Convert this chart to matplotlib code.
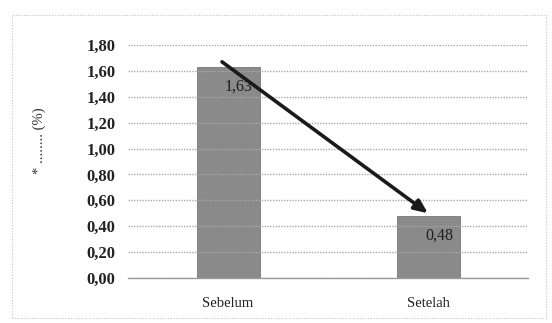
import matplotlib
matplotlib.use("Agg")
import matplotlib.pyplot as plt
from matplotlib.patches import Rectangle

categories = ["Sebelum", "Setelah"]
values = [1.63, 0.48]
value_labels = ["1,63", "0,48"]
yticks = [0.0, 0.2, 0.4, 0.6, 0.8, 1.0, 1.2, 1.4, 1.6, 1.8]
ytick_labels = ["0,00", "0,20", "0,40", "0,60", "0,80", "1,00", "1,20", "1,40", "1,60", "1,80"]

plt.rcParams["font.family"] = ["Liberation Serif", "DejaVu Serif"]

W, H = 552, 323
fig = plt.figure(figsize=(W / 100, H / 100), dpi=100)
fig.patch.set_facecolor("white")

# outer chart frame
fig.patches.append(Rectangle((12 / W, 1 - 318 / H), 534 / W, 303 / H,
                             transform=fig.transFigure, fill=False,
                             edgecolor="#c4c4c4", linewidth=0.8,
                             linestyle=(0, (1, 1.5))))

ax = fig.add_axes([128 / W, 1 - 278 / H, 400 / W, 233 / H])
x = list(range(len(categories)))
ax.bar(x, values, width=0.315, color="#8a8a8a", edgecolor="#777777",
       linewidth=0.6, zorder=1)

ax.set_xlim(-0.5, 1.5)
ax.set_ylim(0, 1.8)
ax.set_yticks(yticks)
ax.set_yticklabels(ytick_labels, fontsize=12, fontweight="bold", color="#222222")
ax.set_xticks(x)
ax.set_xticklabels(categories, fontsize=10.5, color="#222222")
ax.tick_params(axis="y", length=0, pad=9)
ax.tick_params(axis="x", length=0, pad=14)

ax.grid(axis="y", color="#a8a8a8", linewidth=1.0, linestyle=(0, (1, 1)), zorder=2)
ax.set_axisbelow(False)
for s in ["top", "right", "left"]:
    ax.spines[s].set_visible(False)
ax.spines["bottom"].set_color("#999999")
ax.spines["bottom"].set_linewidth(1.0)

# value labels inside the bar tops
for xi, v, lab in zip(x, values, value_labels):
    ax.annotate(lab, xy=(xi, v), xytext=(11, -20), textcoords="offset pixels",
                ha="center", va="center", fontsize=11.5, color="#1e1e1e", zorder=4)

# trend arrow from before to after
ax.annotate("", xy=(1.0, 0.50), xytext=(-0.03, 1.67),
            arrowprops=dict(arrowstyle="-|>,head_length=0.8,head_width=0.35",
                            color="#1a1a1a", linewidth=2.6, shrinkA=0, shrinkB=0),
            zorder=5)

ax.set_ylabel("* ........ (%)", fontsize=10.5, color="#333333")
ax.yaxis.set_label_coords(-0.205, 0.59)

fig.savefig("out.png", dpi=100, facecolor="white")
